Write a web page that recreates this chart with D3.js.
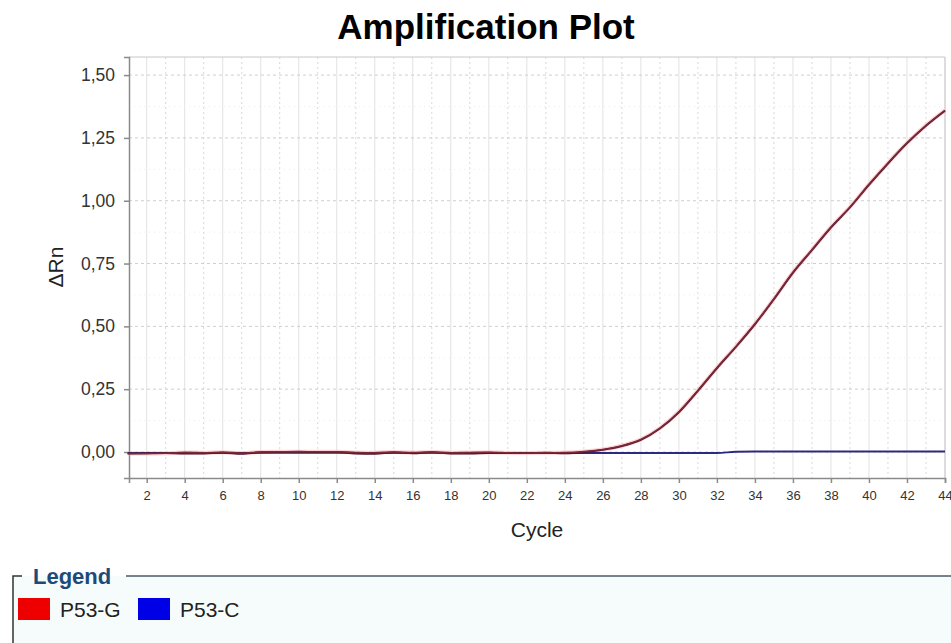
<!DOCTYPE html>
<html>
<head>
<meta charset="utf-8">
<script src="https://cdn.jsdelivr.net/npm/d3@7"></script>
<style>
  body { margin: 0; background: #fff; font-family: Arial, "Liberation Sans", sans-serif; }
</style>
</head>
<body>
<div id="chart"></div>
<script>
// cycles 1..44
var cycles = d3.range(1, 45);

// P53-G (red) and P53-C (blue) delta Rn
var p53g = [-0.006, -0.006, -0.005, -0.002, -0.003, -0.001, -0.004, 0.000, 0.001, 0.001,
            0.001, 0.001, -0.002, -0.003, 0.000, -0.002, 0.000, -0.003, -0.002, -0.001,
            -0.003, -0.004, -0.003, -0.002, 0.002, 0.010, 0.025, 0.050, 0.095, 0.160,
            0.245, 0.335, 0.420, 0.510, 0.610, 0.715, 0.805, 0.895, 0.975, 1.065,
            1.150, 1.230, 1.300, 1.360];
var p53gRep = [-0.006, -0.005, -0.004, -0.006, -0.006, -0.003, -0.007, -0.001, 0.000, 0.001,
               0.000, 0.000, -0.006, -0.007, -0.002, -0.005, -0.001, -0.006, -0.006, -0.004,
               -0.004, -0.004, -0.003, -0.005, -0.001, 0.008, 0.023, 0.048, 0.093, 0.158,
               0.243, 0.333, 0.418, 0.508, 0.608, 0.713, 0.803, 0.893, 0.973, 1.063,
               1.148, 1.228, 1.298, 1.358];
var p53c = [-0.004, -0.004, -0.004, -0.003, -0.004, -0.003, -0.004, -0.003, -0.003, -0.003,
            -0.003, -0.003, -0.004, -0.004, -0.003, -0.004, -0.003, -0.004, -0.004, -0.003,
            -0.004, -0.004, -0.004, -0.004, -0.004, -0.004, -0.004, -0.004, -0.004, -0.004,
            -0.004, -0.004, 0.001, 0.002, 0.002, 0.002, 0.002, 0.002, 0.002, 0.002,
            0.002, 0.002, 0.002, 0.002];

var xTicks = d3.range(2, 45, 2);
var yTicks = [0, 0.25, 0.5, 0.75, 1.0, 1.25, 1.5];
var legendNames = ["P53-G", "P53-C"];
var legendColors = ["#ee0000", "#0000e6"];

var width = 951, height = 643;
var pLeft = 129, pRight = 945, pTop = 57, pBottom = 478;

var svg = d3.select('#chart').append('svg')
    .attr('width', width)
    .attr('height', height);

var x = d3.scaleLinear().domain([1.07, 44]).range([pLeft, pRight]);
var y = d3.scaleLinear().domain([-0.1035, 1.572]).range([pBottom, pTop]);

// title
svg.append('text')
    .attr('x', 486).attr('y', 39)
    .attr('text-anchor', 'middle')
    .style('font-size', '35px').style('font-weight', 'bold')
    .text('Amplification Plot');

// grid
var grid = svg.append('g');
grid.selectAll('line.vx')
    .data(d3.range(3, 44, 2)).enter().append('line')
    .attr('x1', d => x(d)).attr('x2', d => x(d))
    .attr('y1', pTop).attr('y2', pBottom)
    .attr('stroke', '#d8d8d8').attr('stroke-dasharray', '2,3');
grid.selectAll('line.vm')
    .data(xTicks).enter().append('line')
    .attr('x1', d => x(d)).attr('x2', d => x(d))
    .attr('y1', pTop).attr('y2', pBottom)
    .attr('stroke', '#e2e2e2');
grid.selectAll('line.hm')
    .data(yTicks).enter().append('line')
    .attr('x1', pLeft).attr('x2', pRight)
    .attr('y1', d => y(d)).attr('y2', d => y(d))
    .attr('stroke', '#cfcfcf').attr('stroke-dasharray', '3,3');
grid.selectAll('line.hn')
    .data(d3.range(0.125, 1.5, 0.25)).enter().append('line')
    .attr('x1', pLeft).attr('x2', pRight)
    .attr('y1', d => y(d)).attr('y2', d => y(d))
    .attr('stroke', '#ececec').attr('stroke-dasharray', '1,4');

// frame
svg.append('line').attr('x1', pLeft).attr('x2', pRight).attr('y1', pTop).attr('y2', pTop)
    .attr('stroke', '#c8c8c8');
svg.append('line').attr('x1', pRight).attr('x2', pRight).attr('y1', pTop).attr('y2', pBottom)
    .attr('stroke', '#c8c8c8');

// axes
var xAxis = svg.append('g')
    .attr('transform', 'translate(0,' + pBottom + ')')
    .call(d3.axisBottom(x).tickValues(xTicks).tickSize(5).tickPadding(8));
var yAxis = svg.append('g')
    .attr('transform', 'translate(' + pLeft + ',0)')
    .call(d3.axisLeft(y).tickValues(yTicks).tickSize(5).tickPadding(9)
        .tickFormat(d => d3.format('.2f')(d).replace('.', ',')));
[xAxis, yAxis].forEach(function (a) {
    a.selectAll('path, line').attr('stroke', '#8a8a8a').attr('stroke-width', 1.5);
    a.selectAll('text').attr('fill', '#333')
        .style('font-family', 'Arial, "Liberation Sans", sans-serif');
});
xAxis.selectAll('text').style('font-size', '13px');
yAxis.selectAll('text').style('font-size', '17.5px');

// axis labels
svg.append('text')
    .attr('x', (pLeft + pRight) / 2).attr('y', 537)
    .attr('text-anchor', 'middle')
    .style('font-size', '21px').attr('fill', '#222')
    .text('Cycle');
svg.append('text')
    .attr('transform', 'translate(63,267)rotate(-90)')
    .attr('text-anchor', 'middle')
    .style('font-size', '21px').attr('fill', '#222')
    .text('ΔRn');

// curves
var line = d3.line()
    .x((d, i) => x(cycles[i]))
    .y(d => y(d))
    .curve(d3.curveMonotoneX);

var plot = svg.append('g');
plot.append('path').datum(p53g)
    .attr('d', line).attr('fill', 'none')
    .attr('stroke', '#ffb3b8').attr('stroke-width', 4).attr('opacity', 0.6);
plot.append('path').datum(p53c)
    .attr('d', line).attr('fill', 'none')
    .attr('stroke', '#2a2a80').attr('stroke-width', 1.8);
plot.append('path').datum(p53gRep)
    .attr('d', line).attr('fill', 'none')
    .attr('stroke', '#4a1a3a').attr('stroke-width', 1.8);
plot.append('path').datum(p53g)
    .attr('d', line).attr('fill', 'none')
    .attr('stroke', '#7a2a36').attr('stroke-width', 1.6);

// legend
var lg = svg.append('g');
lg.append('rect')
    .attr('x', 12).attr('y', 576).attr('width', 939).attr('height', 67)
    .attr('fill', '#f6fbfb');
lg.append('path')
    .attr('d', 'M22,576 H13 V643')
    .attr('fill', 'none').attr('stroke', '#333').attr('stroke-width', 1.5);
lg.append('line')
    .attr('x1', 126).attr('x2', 951).attr('y1', 576).attr('y2', 576)
    .attr('stroke', '#4a5a66').attr('stroke-width', 1.5);
lg.append('text')
    .attr('x', 33).attr('y', 584)
    .style('font-size', '22px').style('font-weight', 'bold')
    .attr('fill', '#1d4a78')
    .text('Legend');

var itemX = [18, 138];
var items = lg.selectAll('g.item')
    .data(legendNames).enter().append('g')
    .attr('transform', (d, i) => 'translate(' + itemX[i] + ',598)');
items.append('rect')
    .attr('width', 32).attr('height', 22)
    .attr('fill', (d, i) => legendColors[i]);
items.append('text')
    .attr('x', 42).attr('y', 19)
    .style('font-size', '21px').attr('fill', '#222')
    .text(d => d);
</script>
</body>
</html>
